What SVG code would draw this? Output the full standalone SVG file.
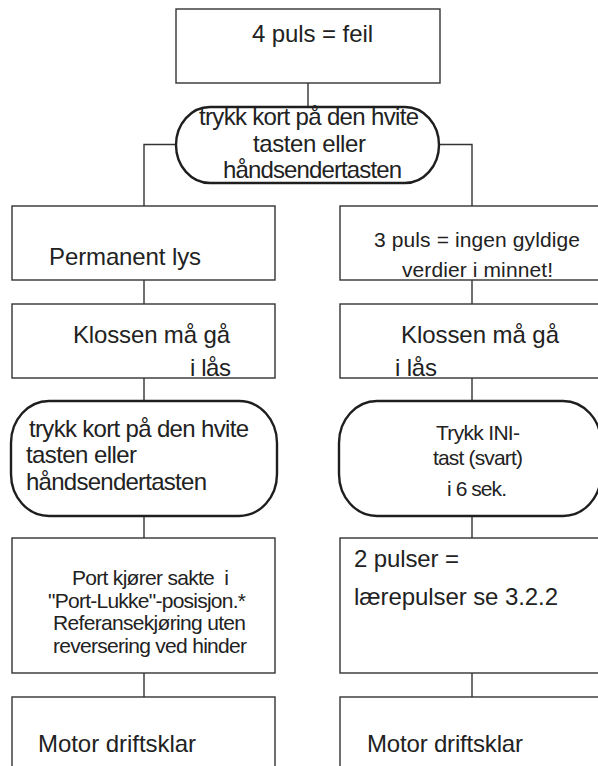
<svg xmlns="http://www.w3.org/2000/svg" width="598" height="766" viewBox="0 0 598 766">
<style>
.box{fill:#fff;stroke:#333;stroke-width:1.4}
.rnd{fill:#fff;stroke:#1e1e1e;stroke-width:2.4}
.con{fill:none;stroke:#333;stroke-width:1.4}
text{font-family:"Liberation Sans",Arial,sans-serif;fill:#222}
.L{font-size:24px}
.M{font-size:21px}
.S{font-size:21px}
</style>
<rect width="598" height="766" fill="#fff"/>
<g id="connectors">
<path class="con" d="M308 83V107"/>
<path class="con" d="M176 144.5H144V206"/>
<path class="con" d="M439 144.5H472V206"/>
<path class="con" d="M144 280V304M144 378V401M144 516V538M144 673V697"/>
<path class="con" d="M472 280V304M472 378V401M472 516V538M472 673V697"/>
</g>
<g id="n_top">
<rect class="box" x="176" y="9" width="264" height="74"/>
<text class="L" x="252" y="42" textLength="121">4 puls = feil</text>
</g>
<g id="n_press1">
<rect class="rnd" x="176" y="107" width="263" height="76" rx="34" ry="38"/>
<text class="L" x="199" y="125" textLength="220">trykk kort på den hvite</text>
<text class="L" x="253" y="152" textLength="113">tasten eller</text>
<text class="L" x="223" y="178" textLength="179">håndsendertasten</text>
</g>
<g id="n_perm">
<rect class="box" x="12" y="206" width="263" height="74"/>
<text class="L" x="49" y="265" textLength="152">Permanent lys</text>
</g>
<g id="n_kloss_l">
<rect class="box" x="12" y="304" width="263" height="74"/>
<text class="L" x="73" y="343" textLength="157">Klossen må gå</text>
<text class="L" x="190" y="376" textLength="41">i lås</text>
</g>
<g id="n_press2">
<rect class="rnd" x="11" y="401" width="266" height="115" rx="38" ry="42"/>
<text class="L" x="29" y="437" textLength="220">trykk kort på den hvite</text>
<text class="L" x="26" y="463" textLength="111">tasten eller</text>
<text class="L" x="26" y="490" textLength="181">håndsendertasten</text>
</g>
<g id="n_port">
<rect class="box" x="12" y="538" width="263" height="135"/>
<text class="S" x="72" y="585" textLength="157" xml:space="preserve">Port kjører sakte  i</text>
<text class="S" x="48" y="608" textLength="198">"Port-Lukke"-posisjon.*</text>
<text class="S" x="53" y="630" textLength="193">Referansekjøring uten</text>
<text class="S" x="53" y="653" textLength="194">reversering ved hinder</text>
</g>
<g id="n_motor_l">
<rect class="box" x="12" y="697" width="263" height="80"/>
<text class="L" x="38" y="752" textLength="158">Motor driftsklar</text>
</g>
<g id="n_3puls">
<rect class="box" x="340" y="206" width="263" height="74"/>
<text class="M" x="374" y="247" textLength="206">3 puls = ingen gyldige</text>
<text class="M" x="402" y="277" textLength="151">verdier i minnet!</text>
</g>
<g id="n_kloss_r">
<rect class="box" x="340" y="304" width="263" height="74"/>
<text class="L" x="401" y="343" textLength="158">Klossen må gå</text>
<text class="L" x="395" y="376" textLength="42">i lås</text>
</g>
<g id="n_ini">
<rect class="rnd" x="339" y="401" width="262" height="115" rx="38" ry="42"/>
<text class="S" x="436" y="440" textLength="84">Trykk INI-</text>
<text class="S" x="433" y="465" textLength="90">tast (svart)</text>
<text class="S" x="447" y="496" textLength="60">i 6 sek.</text>
</g>
<g id="n_2puls">
<rect class="box" x="340" y="538" width="263" height="135"/>
<text class="L" x="354" y="567" textLength="105">2 pulser =</text>
<text class="L" x="354" y="605" textLength="204">lærepulser se 3.2.2</text>
</g>
<g id="n_motor_r">
<rect class="box" x="340" y="697" width="263" height="80"/>
<text class="L" x="367" y="752" textLength="156">Motor driftsklar</text>
</g>
</svg>
